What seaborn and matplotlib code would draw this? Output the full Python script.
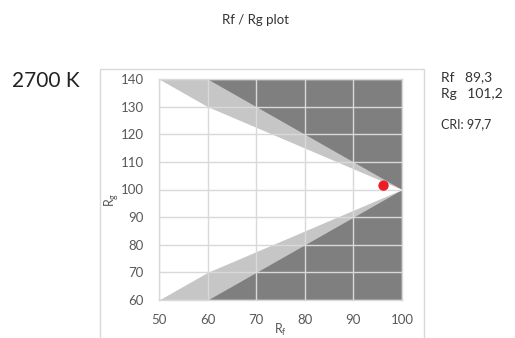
import matplotlib
matplotlib.use("Agg")
import matplotlib.pyplot as plt
from matplotlib.patches import Rectangle
import seaborn as sns
import pandas as pd

# boundary vertices of the Rf / Rg chart regions
rf_edges = [50, 60, 100]
gray_upper = [140, 140, 100]
gray_lower = [60, 60, 100]
white_upper = [140, 130, 100]
white_lower = [60, 70, 100]

# measured point
point_rf = [96.2]
point_rg = [101.4]

x_ticks = [50, 60, 70, 80, 90, 100]
y_ticks = [60, 70, 80, 90, 100, 110, 120, 130, 140]

sns.set_style("white")
plt.rcParams['font.family'] = ['Lato', 'DejaVu Sans']

W, H = 515, 338
fig = plt.figure(figsize=(W / 100, H / 100), dpi=100)
ax = fig.add_axes([159 / W, 1 - 300 / H, 243 / W, 221 / H])

ax.set_facecolor("#7f7f7f")
ax.fill_between(rf_edges, gray_lower, gray_upper, color="#c6c6c6", lw=0, zorder=1)
ax.fill_between(rf_edges, white_lower, white_upper, color="white", lw=0, zorder=2)

df = pd.DataFrame({"Rf": point_rf, "Rg": point_rg})
sns.scatterplot(data=df, x="Rf", y="Rg", ax=ax, color="#ee1c25", s=55,
                edgecolor="none", zorder=5)

ax.set_xlim(50, 100)
ax.set_ylim(60, 140)
ax.set_xticks(x_ticks)
ax.set_yticks(y_ticks)
ax.grid(True, color="#d9d9d9", lw=1.0, zorder=3)
ax.set_axisbelow(False)
for s in ax.spines.values():
    s.set_color("#d9d9d9")
    s.set_linewidth(1.0)
ax.tick_params(length=0, labelsize=9.5, labelcolor="#595959")
ax.tick_params(axis="y", pad=11)
ax.tick_params(axis="x", pad=10)
ax.set_xlabel("")
ax.set_ylabel("")

fig.text(280 / W, 1 - 330 / H, r"R$_\mathregular{f}$", ha="center", va="center",
         fontsize=9, color="#595959")
fig.text(112 / W, 1 - 200 / H, r"R$_\mathregular{g}$", ha="center", va="center",
         fontsize=9, color="#595959", rotation=90)

# outer frame
fig.patches.append(Rectangle((100 / W, -0.05), 324 / W, 1 - 69 / H + 0.05,
                             transform=fig.transFigure, fill=False,
                             edgecolor="#d9d9d9", lw=1.0))

fig.text(255 / W, 1 - 20 / H, "Rf / Rg plot", ha="center", va="center",
         fontsize=9.5, color="#333333")
fig.text(12 / W, 1 - 81 / H, "2700 K", ha="left", va="center",
         fontsize=15, color="#222222")
fig.text(441 / W, 1 - 77 / H, "Rf   89,3", ha="left", va="center",
         fontsize=10, color="#333333")
fig.text(441 / W, 1 - 94 / H, "Rg   101,2", ha="left", va="center",
         fontsize=10, color="#333333")
fig.text(441 / W, 1 - 124 / H, "CRI: 97,7", ha="left", va="center",
         fontsize=9, color="#333333")

fig.savefig("out.png", dpi=100)
